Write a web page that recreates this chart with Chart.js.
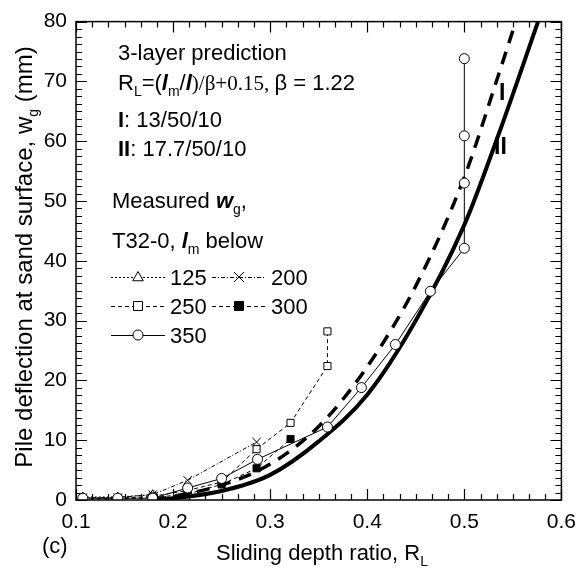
<!DOCTYPE html>
<html>
<head>
<meta charset="utf-8">
<script src="https://cdn.jsdelivr.net/npm/chart.js@4"></script>
<style>
  html, body { margin: 0; padding: 0; background: #fff; }
  #wrap { width: 586px; height: 571px; }
</style>
</head>
<body>
<div id="wrap"><canvas id="chart" width="586" height="571"></canvas></div>
<script>
// measured w_g (mm) vs R_L, T32-0, one array pair per l_m
const rl125 = [0.107, 0.143, 0.179]
const wg125 = [0.5, 0.5, 0.9]
const rl200 = [0.107, 0.143, 0.179, 0.215, 0.286]
const wg200 = [0.4, 0.4, 0.9, 3.3, 9.7]
const rl250 = [0.107, 0.143, 0.179, 0.215, 0.250, 0.286, 0.321, 0.359, 0.359]
const wg250 = [0.3, 0.3, 0.6, 1.6, 3.0, 8.5, 12.9, 22.4, 28.2]
const rl300 = [0.107, 0.143, 0.179, 0.215, 0.250, 0.286, 0.321]
const wg300 = [0.2, 0.2, 0.4, 1.0, 2.6, 5.3, 10.2]
const rl350 = [0.107, 0.143, 0.179, 0.215, 0.250, 0.287, 0.359, 0.394, 0.429, 0.465, 0.500, 0.500, 0.500, 0.500]
const wg350 = [0.3, 0.3, 0.3, 2.0, 3.6, 6.8, 12.2, 18.8, 26.0, 34.9, 42.1, 53.0, 60.9, 73.8]

// 3-layer prediction curves
const rlPredI = [0.18, 0.20, 0.25, 0.30, 0.35, 0.40, 0.45, 0.50, 0.535, 0.553]
const wgPredI = [0.0, 0.6, 2.5, 6.0, 12.3, 22.3, 35.8, 54.0, 71.0, 80.0]
const rlPredII = [0.18, 0.20, 0.25, 0.30, 0.35, 0.40, 0.45, 0.50, 0.535, 0.576]
const wgPredII = [0.0, 0.3, 1.5, 4.2, 9.8, 17.6, 30.0, 46.0, 61.0, 80.0]

const xTickLabels = ['0.1', '0.2', '0.3', '0.4', '0.5', '0.6']
const yTickLabels = ['0', '10', '20', '30', '40', '50', '60', '70', '80']

const pts = (xs, ys) => xs.map((x, i) => ({ x: x, y: ys[i] }))

const SANS = '"Liberation Sans", Arial, sans-serif'
const SERIF = '"Liberation Serif", "Times New Roman", serif'

function marker(ctx, style, x, y, r) {
    ctx.save()
    ctx.setLineDash([])
    ctx.lineWidth = 1
    ctx.strokeStyle = '#000'
    ctx.fillStyle = style === 'rectFilled' ? '#000' : '#fff'
    ctx.beginPath()
    if (style === 'circle') {
        ctx.arc(x, y, r, 0, Math.PI * 2)
        ctx.fill(); ctx.stroke()
    } else if (style === 'triangle') {
        ctx.moveTo(x, y - r * 1.1)
        ctx.lineTo(x + r * 1.05, y + r * 0.75)
        ctx.lineTo(x - r * 1.05, y + r * 0.75)
        ctx.closePath()
        ctx.fill(); ctx.stroke()
    } else if (style === 'rect' || style === 'rectFilled') {
        ctx.rect(x - r * 0.9, y - r * 0.9, r * 1.8, r * 1.8)
        ctx.fill(); ctx.stroke()
    } else if (style === 'crossRot') {
        ctx.moveTo(x - r, y - r); ctx.lineTo(x + r, y + r)
        ctx.moveTo(x + r, y - r); ctx.lineTo(x - r, y + r)
        ctx.stroke()
    }
    ctx.restore()
}

// draws a run of text pieces, each with its own font and vertical shift
function rich(ctx, x, y, parts) {
    ctx.save()
    ctx.textBaseline = 'alphabetic'
    ctx.textAlign = 'left'
    ctx.fillStyle = '#000'
    for (const p of parts) {
        ctx.font = p.f
        ctx.fillText(p.t, x, y + (p.dy || 0))
        x += ctx.measureText(p.t).width + (p.gap || 0)
    }
    ctx.restore()
    return x
}
function richWidth(ctx, parts) {
    let w = 0
    for (const p of parts) { ctx.font = p.f; w += ctx.measureText(p.t).width + (p.gap || 0) }
    return w
}

const frame = {
    id: 'frame',
    afterDatasetsDraw(chart) {
        const ctx = chart.ctx
        const a = chart.chartArea
        const xs = chart.scales.x, ys = chart.scales.y
        ctx.save()
        ctx.strokeStyle = '#000'
        ctx.lineWidth = 1.5
        ctx.strokeRect(a.left, a.top, a.right - a.left, a.bottom - a.top)
        ctx.lineWidth = 1.2
        ctx.beginPath()
        // x ticks: 6 minor divisions per 0.1
        for (let i = 0; i <= 30; i++) {
            const px = Math.round(xs.getPixelForValue(0.1 + i * 0.1 / 6)) + 0.5
            const len = i % 6 === 0 ? 11 : 6
            ctx.moveTo(px, a.bottom); ctx.lineTo(px, a.bottom - len)
            ctx.moveTo(px, a.top); ctx.lineTo(px, a.top + len)
        }
        // y ticks: 8 minor divisions per 10 mm
        for (let i = 0; i <= 64; i++) {
            const py = Math.round(ys.getPixelForValue(i * 10 / 8)) + 0.5
            const len = i % 8 === 0 ? 11 : 6
            ctx.moveTo(a.left, py); ctx.lineTo(a.left + len, py)
            ctx.moveTo(a.right, py); ctx.lineTo(a.right - len, py)
        }
        ctx.stroke()
        ctx.restore()

        const F = '22px ' + SANS
        const FS = '14px ' + SANS
        const FB = 'bold 22px ' + SANS
        const FBI = 'italic bold 22px ' + SANS
        const FT = '21px ' + SERIF

        rich(ctx, 118, 60, [{ t: '3-layer prediction', f: F }])
        rich(ctx, 118, 90, [
            { t: 'R', f: F }, { t: 'L', f: FS, dy: 6 }, { t: '=(', f: F },
            { t: 'l', f: FBI }, { t: 'm', f: FS, dy: 6 }, { t: '/', f: F },
            { t: 'l', f: FBI }, { t: ')/β+0.15, ', f: FT }, { t: 'β = 1.22', f: F }
        ])
        rich(ctx, 118, 127, [{ t: 'I', f: FB }, { t: ': 13/50/10', f: F }])
        rich(ctx, 118, 156, [{ t: 'II', f: FB }, { t: ': 17.7/50/10', f: F }])
        rich(ctx, 112, 208, [{ t: 'Measured ', f: F }, { t: 'w', f: FBI }, { t: 'g', f: FS, dy: 6 }, { t: ',', f: F }])
        rich(ctx, 112, 248, [{ t: 'T32-0, ', f: F }, { t: 'l', f: FBI }, { t: 'm', f: FS, dy: 6 }, { t: ' below', f: F }])

        // legend rows
        const rows = [
            [111, 277, 'triangle', [2, 2], '125'], [212, 277, 'crossRot', [4, 2, 1, 2], '200'],
            [111, 306, 'rect', [4, 3], '250'], [212, 306, 'rectFilled', [4, 3], '300'],
            [111, 335, 'circle', [], '350']
        ]
        for (const [x0, yc, st, dash, lab] of rows) {
            ctx.save()
            ctx.lineWidth = 1
            ctx.strokeStyle = '#000'
            ctx.setLineDash(dash)
            ctx.beginPath(); ctx.moveTo(x0, yc + 0.5); ctx.lineTo(x0 + 54, yc + 0.5); ctx.stroke()
            ctx.restore()
            marker(ctx, st, x0 + 27, yc, 5)
            rich(ctx, x0 + 59, yc + 8, [{ t: lab, f: F }])
        }

        // curve labels
        rich(ctx, 499, 100, [{ t: 'I', f: 'bold 23px ' + SANS }])
        rich(ctx, 494, 154, [{ t: 'II', f: 'bold 23px ' + SANS }])

        // axis titles
        const xt = [{ t: 'Sliding depth ratio, R', f: F }, { t: 'L', f: FS, dy: 6 }]
        rich(ctx, 322 - richWidth(ctx, xt) / 2, 560, xt)
        rich(ctx, 42, 553, [{ t: '(c)', f: F }])

        const FY = '24px ' + SANS
        const yt = [{ t: 'Pile deflection at sand surface, w', f: FY }, { t: 'g', f: FS, dy: 6 }, { t: ' (mm)', f: FY }]
        ctx.save()
        ctx.translate(32, 257)
        ctx.rotate(-Math.PI / 2)
        rich(ctx, -richWidth(ctx, yt) / 2, 0, yt)
        ctx.restore()
    }
}

const measured = (rl, wg, style, dash, lab) => ({
    label: lab,
    data: pts(rl, wg),
    showLine: true,
    borderColor: '#000',
    borderWidth: 1,
    borderDash: dash,
    pointStyle: style === 'rectFilled' ? 'rect' : style,
    pointRadius: style === 'crossRot' ? 6 : 5,
    pointBackgroundColor: style === 'rectFilled' ? '#000' : '#fff',
    pointBorderColor: '#000',
    pointBorderWidth: 1,
    clip: 0
})

document.addEventListener('DOMContentLoaded', () => {
    const ctx = document.getElementById('chart').getContext('2d')
    new Chart(ctx, {
        type: 'scatter',
        data: {
            datasets: [
                measured(rl350, wg350, 'circle', [], '350'),
                measured(rl300, wg300, 'rectFilled', [4, 3], '300'),
                measured(rl250, wg250, 'rect', [4, 3], '250'),
                measured(rl200, wg200, 'crossRot', [4, 2, 1, 2], '200'),
                measured(rl125, wg125, 'triangle', [2, 2], '125'),
                {
                    label: 'I', data: pts(rlPredI, wgPredI), showLine: true,
                    borderColor: '#000', borderWidth: 3.5, borderDash: [13, 9],
                    pointRadius: 0, cubicInterpolationMode: 'monotone', clip: 0
                },
                {
                    label: 'II', data: pts(rlPredII, wgPredII), showLine: true,
                    borderColor: '#000', borderWidth: 4,
                    pointRadius: 0, cubicInterpolationMode: 'monotone', clip: 0
                }
            ]
        },
        options: {
            responsive: false,
            animation: false,
            layout: { padding: { left: 0, top: 14, right: 15, bottom: 0 } },
            plugins: { legend: { display: false }, tooltip: { enabled: false } },
            scales: {
                x: {
                    type: 'linear', min: 0.1, max: 0.6,
                    grid: { display: false, drawTicks: false }, border: { display: false },
                    ticks: {
                        stepSize: 0.1, color: '#000', padding: 10,
                        font: { family: 'Liberation Sans', size: 21 },
                        callback: (v, i) => xTickLabels[i]
                    },
                    afterFit: s => { s.height = 71 }
                },
                y: {
                    type: 'linear', min: 0, max: 80,
                    grid: { display: false, drawTicks: false }, border: { display: false },
                    ticks: {
                        stepSize: 10, color: '#000', padding: 9,
                        font: { family: 'Liberation Sans', size: 21 },
                        callback: (v, i) => yTickLabels[i]
                    },
                    afterFit: s => { s.width = 76 }
                }
            }
        },
        plugins: [frame]
    })
})
</script>
</body>
</html>
